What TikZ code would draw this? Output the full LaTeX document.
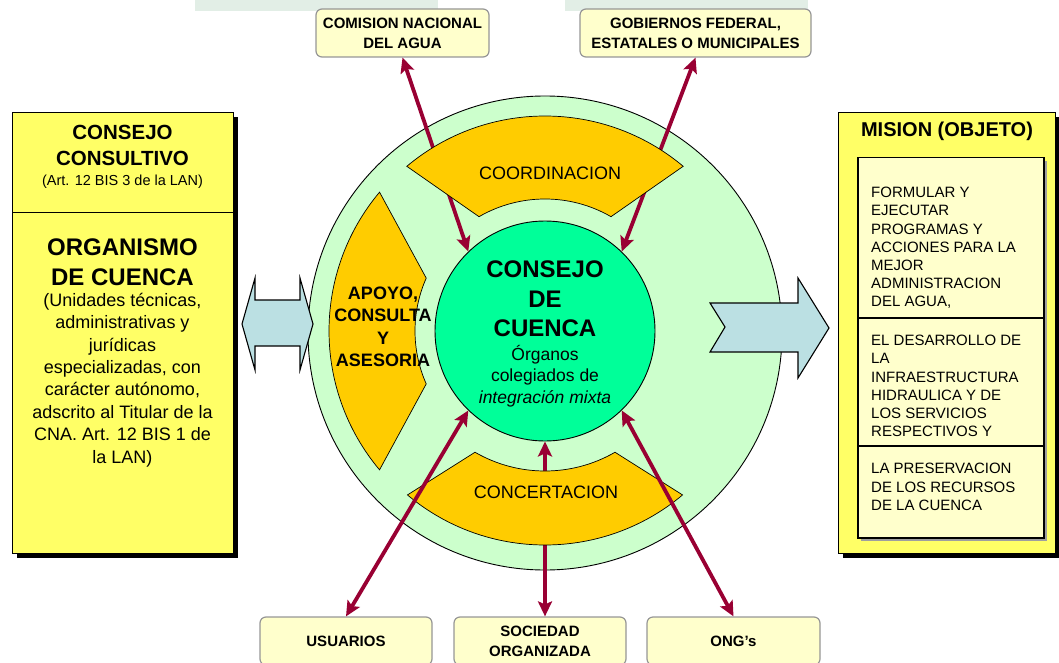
\documentclass[tikz,border=0pt]{standalone}
\usepackage{fontspec}
\setmainfont{Liberation Sans}
\usetikzlibrary{arrows.meta,calc}

\definecolor{boxyellow}{RGB}{255,255,102}
\definecolor{paleyellow}{RGB}{255,255,204}
\definecolor{ringgreen}{RGB}{204,255,204}
\definecolor{coregreen}{RGB}{0,255,153}
\definecolor{bandorange}{RGB}{255,204,0}
\definecolor{arrowblue}{RGB}{187,224,227}
\definecolor{linkred}{RGB}{153,0,51}
\definecolor{wmgreen}{RGB}{226,238,230}
\definecolor{boxedge}{RGB}{150,150,150}

\newcommand{\fs}[2]{\fontsize{#1}{#2}\selectfont}

\begin{document}
\begin{tikzpicture}[x=1pt,y=-1pt,
  smallbox/.style={draw=boxedge, line width=1.2pt, fill=paleyellow, rounded corners=6pt,
    align=center, font=\fs{15}{20}\bfseries, inner sep=0pt, minimum height=48pt},
  link/.style={draw=linkred, line width=3.8pt,
    {Stealth[length=15pt,width=14pt,inset=3pt]}-{Stealth[length=15pt,width=14pt,inset=3pt]}},
  band/.style={fill=bandorange, draw=black, line width=0.7pt},
  flat/.style={fill=arrowblue, draw=black, line width=1.1pt},
  lbl/.style={inner sep=0pt, align=center},
  panel/.style={draw, line width=0.8pt, fill=boxyellow, inner sep=0pt, anchor=north west},
]
\useasboundingbox (0,0) rectangle (1059,663);

% faint background bands at the top
\fill[wmgreen] (195,0) rectangle (438,11);
\fill[wmgreen] (565,0) rectangle (808,11);

% left panel
\fill (17,117) rectangle (238,558);
\node[panel, minimum width=221pt, minimum height=441pt] (lbox) at (12,112) {};
\coordinate (ldiv) at (0,212);
\draw[line width=0.8pt] (lbox.west |- ldiv) -- (lbox.east |- ldiv);
\node[lbl, font=\fs{20.5}{24}\bfseries] (lt1a) at (122.5,132) {CONSEJO};
\node[lbl, font=\fs{20.5}{24}\bfseries] (lt1b) at (122.5,158) {CONSULTIVO};
\node[lbl, font=\fs{14.5}{17}] (lt2) at (122.5,182) {(Art. 12 BIS 3 de la LAN)};
\node[lbl, font=\fs{24}{30}\bfseries] (lt3) at (122.5,262) {ORGANISMO\\DE CUENCA};
\node[lbl, font=\fs{18}{22.4}] (lt4) at (122.5,380) {(Unidades técnicas,\\administrativas y\\jurídicas\\especializadas, con\\carácter autónomo,\\adscrito al Titular de la\\CNA. Art. 12 BIS 1 de\\la LAN)};

% right panel
\fill (843,117) rectangle (1064,558);
\node[panel, minimum width=217pt, minimum height=441pt] (rbox) at (838,112) {};
\node[lbl, font=\fs{20}{24}\bfseries] (rt) at (947,131) {MISION (OBJETO)};
\fill[gray!75] (861,161) rectangle (1047,541);
\node[draw, line width=1.5pt, fill=paleyellow, minimum width=186pt, minimum height=380pt,
  inner sep=0pt, anchor=north west] (ibox) at (857,157) {};
\coordinate (rd1) at (0,318);
\coordinate (rd2) at (0,446);
\draw[line width=1.3pt] (ibox.west |- rd1) -- (ibox.east |- rd1);
\draw[line width=1.3pt] (ibox.west |- rd2) -- (ibox.east |- rd2);
\node[inner sep=0pt, align=left, anchor=west, font=\fs{15}{18.2}] (m1) at (871,248)
  {FORMULAR Y\\EJECUTAR\\PROGRAMAS Y\\ACCIONES PARA LA\\MEJOR\\ADMINISTRACION\\DEL AGUA,};
\node[inner sep=0pt, align=left, anchor=west, font=\fs{15}{18.2}] (m2) at (871,386)
  {EL DESARROLLO DE\\LA\\INFRAESTRUCTURA\\HIDRAULICA Y DE\\LOS SERVICIOS\\RESPECTIVOS Y};
\node[inner sep=0pt, align=left, anchor=west, font=\fs{15}{18.2}] (m3) at (871,487)
  {LA PRESERVACION\\DE LOS RECURSOS\\DE LA CUENCA};

% small boxes
\node[smallbox, minimum width=173pt] (cna) at (402.5,33) {COMISION NACIONAL\\DEL AGUA};
\node[smallbox, minimum width=231pt] (gob) at (695.5,33) {GOBIERNOS FEDERAL,\\ESTATALES O MUNICIPALES};
\node[smallbox, minimum width=172pt] (usu) at (346,641) {USUARIOS};
\node[smallbox, minimum width=172pt] (soc) at (540,641) {SOCIEDAD\\ORGANIZADA};
\node[smallbox, minimum width=173pt] (ong) at (733.5,641) {ONG’s};

% rings
\node[circle, draw, line width=0.9pt, fill=ringgreen, minimum size=474pt, inner sep=0pt] (ring) at (545,333) {};
\node[circle, draw, line width=0.9pt, fill=coregreen, minimum size=220pt, inner sep=0pt] (cc) at (545,331) {};

% links passing under the bands
\draw[link] (cc.134) -- (cna.south);
\draw[link] (cc.46) -- (gob.south);
\draw[link] (cc.south) -- (cc.south |- soc.north);

% bands
\begin{scope}[shift={(545,331)}]
  \filldraw[band] (130:215pt) arc[start angle=130, end angle=50, radius=215pt]
    -- (60:132pt) arc[start angle=60, end angle=120, radius=132pt] -- cycle;
  \filldraw[band] (230:214pt) arc[start angle=230, end angle=310, radius=214pt]
    -- (300:140pt) arc[start angle=300, end angle=240, radius=140pt] -- cycle;
  \filldraw[band] (140:216pt) arc[start angle=140, end angle=220, radius=216pt]
    -- (204:130pt) arc[start angle=204, end angle=156, radius=130pt] -- cycle;
\end{scope}

\node[lbl, font=\fs{18}{22}] (coordl) at (550,173) {COORDINACION};
\node[lbl, font=\fs{18}{22}] (concl) at (546,492) {CONCERTACION};
\node[lbl, font=\fs{18}{22.5}\bfseries] (apoyol) at (383,327) {APOYO,\\CONSULTA\\Y\\ASESORIA};

\node[lbl, font=\fs{24}{29.5}\bfseries] (cct) at (545,299) {CONSEJO\\DE\\CUENCA};
\node[lbl, font=\fs{17.5}{21.5}] (ccs) at (545,376) {Órganos\\colegiados de\\\textit{integración mixta}};

% links over the bands
\draw[link] (cc.226) -- (usu.north);
\draw[link] (cc.314) -- (ong.north);

% flat arrows
\filldraw[flat] (242,324) -- (255,278) -- (255,300) -- (300,300) -- (300,278) -- (313,324)
  -- (300,370) -- (300,346) -- (255,346) -- (255,370) -- cycle;
\filldraw[flat] (710,303) -- (725,327) -- (710,352) -- (798,352) -- (798,378) -- (829,328)
  -- (798,278) -- (798,303) -- cycle;
\end{tikzpicture}
\end{document}
